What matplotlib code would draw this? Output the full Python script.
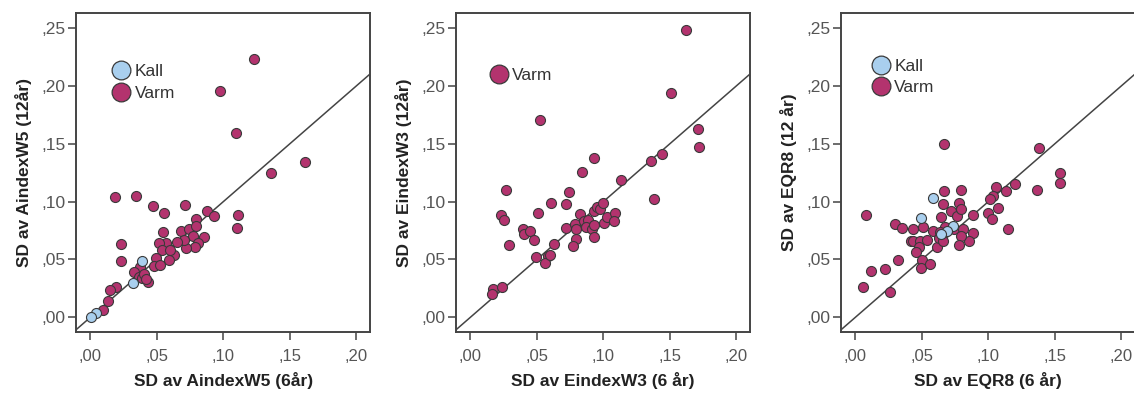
import matplotlib
matplotlib.use("Agg")
import matplotlib.pyplot as plt
from matplotlib.lines import Line2D
from matplotlib.ticker import FuncFormatter

# ---------------- data ----------------
# Panel 1: AindexW5
a_varm_x = [0.1234, 0.0974, 0.1092, 0.1611, 0.1355, 0.1109, 0.1099, 0.0878, 0.0929,
            0.0186, 0.0346, 0.0472, 0.0713, 0.0550, 0.0228, 0.0233, 0.0193, 0.0151,
            0.0136, 0.0095, 0.0547, 0.0683, 0.0743, 0.0793, 0.0798, 0.0773, 0.0858,
            0.0813, 0.0783, 0.0718, 0.0703, 0.0652, 0.0632, 0.0592, 0.0572, 0.0517,
            0.0537, 0.0602, 0.0492, 0.0482, 0.0522, 0.0376, 0.0331, 0.0366, 0.0386,
            0.0432, 0.0407, 0.0415]
a_varm_y = [0.2235, 0.1952, 0.1597, 0.1341, 0.1246, 0.0885, 0.0770, 0.0920, 0.0877,
            0.1038, 0.1050, 0.0960, 0.0969, 0.0900, 0.0637, 0.0484, 0.0260, 0.0239,
            0.0141, 0.0063, 0.0735, 0.0744, 0.0761, 0.0851, 0.0790, 0.0704, 0.0692,
            0.0646, 0.0606, 0.0600, 0.0669, 0.0652, 0.0542, 0.0496, 0.0646, 0.0640,
            0.0582, 0.0582, 0.0513, 0.0447, 0.0450, 0.0433, 0.0392, 0.0352, 0.0340,
            0.0306, 0.0375, 0.0330]
a_kall_x = [0.0389, 0.0321, 0.0045, 0.0005]
a_kall_y = [0.0490, 0.0300, 0.0040, 0.0000]

# Panel 2: EindexW3
e_varm_x = [0.1620, 0.1507, 0.1712, 0.1717, 0.1439, 0.1357, 0.1382, 0.1134, 0.0521,
            0.0931, 0.0836, 0.0270, 0.0230, 0.0250, 0.0290, 0.0395, 0.0406, 0.0451,
            0.0476, 0.0506, 0.0606, 0.0721, 0.0741, 0.0716, 0.0626, 0.0586, 0.0561,
            0.0491, 0.0596, 0.0821, 0.0786, 0.0796, 0.0796, 0.0771, 0.0851, 0.0886,
            0.0866, 0.0911, 0.0926, 0.0926, 0.0926, 0.0951, 0.0971, 0.0996, 0.1006,
            0.1031, 0.1086, 0.1081, 0.0170, 0.0160, 0.0240]
e_varm_y = [0.2480, 0.1938, 0.1626, 0.1468, 0.1413, 0.1355, 0.1024, 0.1188, 0.1701,
            0.1375, 0.1254, 0.1101, 0.0882, 0.0842, 0.0629, 0.0761, 0.0721, 0.0744,
            0.0669, 0.0900, 0.0986, 0.0980, 0.1081, 0.0770, 0.0634, 0.0531, 0.0473,
            0.0525, 0.0540, 0.0894, 0.0807, 0.0767, 0.0675, 0.0617, 0.0830, 0.0842,
            0.0784, 0.0767, 0.0796, 0.0692, 0.0917, 0.0952, 0.0940, 0.0992, 0.0819,
            0.0865, 0.0900, 0.0830, 0.0248, 0.0202, 0.0260]

# Panel 3: EQR8
q_varm_x = [0.0666, 0.1377, 0.1542, 0.1542, 0.1367, 0.1199, 0.1136, 0.1061, 0.1036,
            0.1011, 0.1071, 0.1001, 0.1031, 0.1151, 0.0886, 0.0881, 0.0851, 0.0080,
            0.0060, 0.0115, 0.0223, 0.0260, 0.0318, 0.0300, 0.0350, 0.0436, 0.0416,
            0.0436, 0.0486, 0.0476, 0.0456, 0.0501, 0.0496, 0.0561, 0.0511, 0.0541,
            0.0611, 0.0586, 0.0641, 0.0661, 0.0666, 0.0791, 0.0776, 0.0721, 0.0761,
            0.0791, 0.0671, 0.0636, 0.0626, 0.0656, 0.0741, 0.0806, 0.0791, 0.0781]
q_varm_y = [0.1499, 0.1459, 0.1246, 0.1162, 0.1099, 0.1148, 0.1093, 0.1130, 0.1050,
            0.1021, 0.0946, 0.0900, 0.0848, 0.0761, 0.0888, 0.0732, 0.0663, 0.0888,
            0.0260, 0.0404, 0.0415, 0.0216, 0.0496, 0.0807, 0.0773, 0.0767, 0.0663,
            0.0663, 0.0663, 0.0611, 0.0565, 0.0496, 0.0424, 0.0461, 0.0779, 0.0669,
            0.0611, 0.0744, 0.0865, 0.0975, 0.1090, 0.1101, 0.0986, 0.0917, 0.0877,
            0.0934, 0.0784, 0.0738, 0.0686, 0.0657, 0.0761, 0.0761, 0.0704, 0.0623]
q_kall_x = [0.0581, 0.0491, 0.0736, 0.0691, 0.0646]
q_kall_y = [0.1032, 0.0854, 0.0790, 0.0750, 0.0721]

xlabels = ["SD av AindexW5 (6år)", "SD av EindexW3 (6 år)", "SD av EQR8 (6 år)"]
ylabels = ["SD av AindexW5 (12år)", "SD av EindexW3 (12år)", "SD av EQR8 (12 år)"]
tick_vals = [0.00, 0.05, 0.10, 0.15, 0.20, 0.25]

VARM = "#B3336E"
KALL = "#A9CFEE"
EDGE = "#3a3a3a"
GRAY = "#444444"
FONT = "Liberation Sans"

fig = plt.figure(figsize=(11.34, 3.96), dpi=100)
W, H = 1134, 396
lefts = [76, 456, 841]
top_px, bot_px = 13, 332
XLIM = (-0.0108, 0.2105)
YLIM = (-0.0127, 0.263)
legend_anchor = [(0.128, 0.84), (0.118, 0.828), (0.11, 0.857)]

fmt = FuncFormatter(lambda v, p: ("%.2f" % v).replace("0.", ",", 1))

panels = [
    (a_varm_x, a_varm_y, a_kall_x, a_kall_y, True),
    (e_varm_x, e_varm_y, None, None, False),
    (q_varm_x, q_varm_y, q_kall_x, q_kall_y, True),
]

for i, (vx, vy, kx, ky, has_kall) in enumerate(panels):
    l = lefts[i]
    width_px = (XLIM[1] - XLIM[0]) * 1330
    ax = fig.add_axes([l / W, (H - bot_px) / H, width_px / W, (bot_px - top_px) / H])
    ax.set_xlim(*XLIM)
    ax.set_ylim(*YLIM)
    ax.plot(XLIM, XLIM, color="#444444", lw=1.1, zorder=1)
    ax.scatter(vx, vy, s=52, c=VARM, edgecolors=EDGE, linewidths=0.8, zorder=3)
    if has_kall:
        ax.scatter(kx, ky, s=52, c=KALL, edgecolors=EDGE, linewidths=0.8, zorder=4)
    ax.set_xticks(tick_vals[:5])
    ax.set_yticks(tick_vals)
    ax.xaxis.set_major_formatter(fmt)
    ax.yaxis.set_major_formatter(fmt)
    ax.tick_params(direction="out", length=6, width=1.1, color=GRAY,
                   labelcolor="#555555")
    ax.tick_params(axis="x", labelsize=12, pad=6)
    ax.tick_params(axis="y", labelsize=12.5, pad=1.5)
    for sp in ax.spines.values():
        sp.set_color(GRAY)
        sp.set_linewidth(1.4)
    ax.set_xlabel(xlabels[i], fontsize=12.5, fontweight="bold", color="#222222",
                  family=FONT, labelpad=6)
    ax.set_ylabel(ylabels[i], fontsize=12.5, fontweight="bold", color="#222222",
                  family=FONT, labelpad=7)
    for t in ax.get_xticklabels() + ax.get_yticklabels():
        t.set_family(FONT)

    handles = []
    if has_kall:
        handles.append(Line2D([], [], ls="", marker="o", ms=13.5, mfc=KALL,
                              mec=EDGE, mew=0.9, label="Kall"))
    handles.append(Line2D([], [], ls="", marker="o", ms=13.5, mfc=VARM,
                          mec=EDGE, mew=0.9, label="Varm"))
    leg = ax.legend(handles=handles, loc="upper left",
                    bbox_to_anchor=legend_anchor[i],
                    frameon=False, handlelength=0.9, handletextpad=0.3,
                    labelspacing=0.36, borderpad=0, borderaxespad=0,
                    prop={"family": FONT, "size": 12.5})
    for t in leg.get_texts():
        t.set_color("#333333")

fig.savefig("out.png", dpi=100)
